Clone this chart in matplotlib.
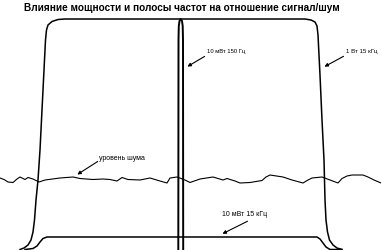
import numpy as np
import matplotlib
matplotlib.use('Agg')
import matplotlib.pyplot as plt

plt.rcParams['font.family'] = ['Liberation Sans', 'DejaVu Sans']

# schematic curves, traced in picture units (x to the right, y downwards)
wide_x = [20, 24, 28, 31, 33, 34.5, 36, 38, 40, 42, 44, 45.5, 46.5, 48, 52, 58, 65,
          305, 311, 315, 317, 318, 320, 322, 324, 325, 326, 327.5, 329.5, 333, 337, 342]
wide_y = [249.5, 248, 245, 240, 232, 220, 200, 180, 150, 110, 70, 40, 30, 25, 21.5, 19.5, 19,
          19, 20, 22, 26, 35, 75, 120, 160, 200, 220, 232, 240, 245, 248, 249.5]

low_x = [25, 33, 37, 40, 43, 47, 317, 320, 323, 326, 330, 342]
low_y = [249.5, 248.5, 246, 242, 238.5, 237, 237, 239, 243, 247, 249.5, 249.5]

peak_x = [178.3, 178.5, 178.8, 179.5, 180.7, 182, 182.7, 183, 183.2]
peak_y = [250, 40, 26, 21, 19, 21, 26, 40, 250]

noise_x = [0, 4, 8, 13, 17, 20, 25, 28, 33, 39, 45, 60, 73, 80, 93, 103, 110, 117, 122, 128,
           140, 150, 160, 167, 170, 177, 185, 190, 200, 213, 223, 227, 235, 240, 250,
           262, 266, 270, 283, 292, 303, 308, 312, 322, 330, 338, 342, 347, 352, 363,
           368, 374, 381]
noise_y = [178, 179.5, 182, 182.5, 179, 177, 179.5, 177.5, 179, 182, 180, 178, 177, 178.5, 179.5, 179,
           179.5, 181, 177.5, 179.5, 180, 178, 181, 183, 178, 177, 180, 182.5, 179, 177,
           180, 178.5, 181, 183, 182.5, 180.5, 177, 175, 177, 180, 183, 180, 178, 177, 180,
           183, 178.5, 176, 175, 175, 177, 180, 183]

title = 'Влияние мощности и полосы частот на отношение сигнал/шум'
labels = ['уровень шума', '10 мВт 150 Гц', '1 Вт 15 кГц', '10 мВт 15 кГц']
label_size = [5.0, 4.2, 4.4, 5.0]
label_xy = [(99, 158), (207, 52), (346, 52), (222, 214)]
arrow_tip = [(75, 176), (185, 68), (322, 68), (220, 235)]
arrow_tail = [(100, 160), (207, 55), (346, 55), (250, 220)]

fig = plt.figure(figsize=(3.81, 2.5), dpi=100)
ax = fig.add_axes([0, 0, 1, 1])
ax.set_xlim(0, 381)
ax.set_ylim(250, 0)
ax.axis('off')

ax.plot(wide_x, wide_y, color='black', lw=1.1)
ax.plot(low_x, low_y, color='black', lw=1.1)
ax.plot(peak_x, peak_y, color='black', lw=1.4)
ax.plot(noise_x, noise_y, color='black', lw=0.8)

for lab, fs, xy, tip, tail in zip(labels, label_size, label_xy, arrow_tip, arrow_tail):
    ax.text(xy[0], xy[1], lab, fontsize=fs, ha='left', va='center')
    ax.annotate('', xy=tip, xytext=tail,
                arrowprops=dict(arrowstyle='-|>', lw=0.8, color='black', mutation_scale=5))

ax.text(182, 8, title, fontsize=7.2, fontweight='bold', ha='center', va='center')

fig.savefig('out.png', dpi=100)
